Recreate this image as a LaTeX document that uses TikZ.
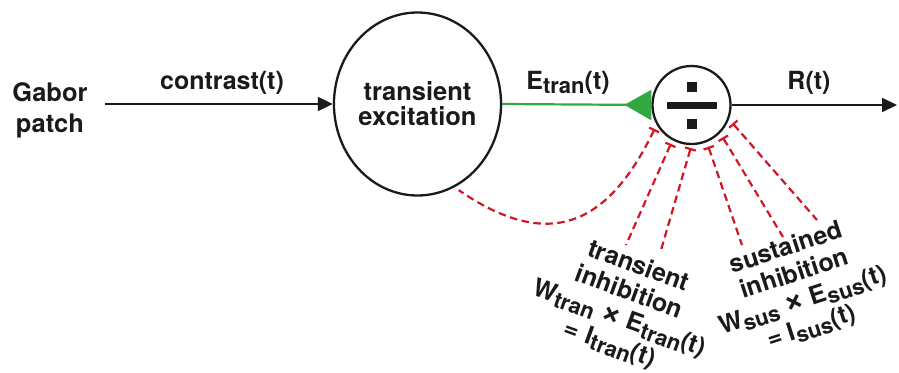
\documentclass[tikz,border=0pt]{standalone}
\usepackage{fontspec}
\setmainfont{TeX Gyre Heros}
\usetikzlibrary{arrows.meta,shapes.geometric,calc}

\definecolor{ink}{RGB}{26,26,26}
\definecolor{exgreen}{RGB}{50,168,66}
\definecolor{inhred}{RGB}{210,22,36}

% lowered index letters, as in E_tran
\newcommand{\idx}[1]{\raisebox{-0.17em}{\fontsize{22}{22}\selectfont #1}}
% heavy multiplication cross
\newcommand{\mult}{\raisebox{-0.02em}{\scalebox{1.35}{×}}}

\begin{document}
\begin{tikzpicture}[x=1pt,y=-1pt,
  font=\fontsize{25}{27}\selectfont\bfseries,
  lbl/.style={inner sep=0pt, text=ink},
  excite/.style={ellipse, draw=ink, line width=2.3pt, minimum width=141pt,
    minimum height=183pt, inner sep=0pt, align=center, text=ink},
  divider/.style={circle, draw=ink, line width=2.3pt, minimum size=78pt, inner sep=0pt},
  flow/.style={draw=ink, line width=2pt, -{Triangle[length=15pt,width=14pt]}},
  excflow/.style={draw=exgreen, line width=2.2pt, -{Triangle[reversed,length=27pt,width=30pt]}},
  inh/.style={draw=inhred, line width=2.2pt, dash pattern=on 7.5pt off 4.5pt,
    {Bar[width=11pt]}-},
  inhtext/.style={lbl, align=center, font=\fontsize{25}{27.5}\selectfont\bfseries}]

\useasboundingbox (0,0) rectangle (899,372);

% stages
\node[lbl, align=center, font=\fontsize{25.5}{31}\selectfont\bfseries] (gabor) at (50,110) {Gabor\\patch};
\node[excite, font=\fontsize{25.5}{25}\selectfont\bfseries] (ex) at (417.5,104) {transient\\excitation};
\node[divider] (div) at (691.5,105) {};

% division sign inside the normalisation stage
\fill[ink] ($(div.center)+(-25,-3.5)$) rectangle ($(div.center)+(25,3.5)$);
\fill[ink] ($(div.center)+(-5,-23.5)$) rectangle ($(div.center)+(5,-13.5)$);
\fill[ink] ($(div.center)+(-5,13.5)$) rectangle ($(div.center)+(5,23.5)$);

% signal path
\coordinate (out) at (897,105);
\draw[flow, shorten <=17pt] (gabor.east |- ex.west) -- (ex.west);
\draw[excflow] (ex.east) -- (div.west);
\draw[flow] (div.east) -- (out);

\node[lbl, anchor=base] (contrast) at (222,89) {contrast(t)};
\node[lbl, anchor=base] (etran) at (568,89) {E\idx{tran}(t)};
\node[lbl, anchor=base] (resp) at (809,89) {R(t)};

% inhibitory inputs to the divisive stage
\path (div.center) ++(-147:44pt) coordinate (a1);
\path (div.center) ++(-118:44pt) coordinate (a2);
\path (div.center) ++(-91:43pt) coordinate (a3);
\path (div.center) ++(-68:45pt) coordinate (a4);
\path (div.center) ++(-46:45pt) coordinate (a5);
\path (div.center) ++(-24:45pt) coordinate (a6);

\coordinate (e2) at (626,245);
\coordinate (e3) at (661,250);
\coordinate (e4) at (742,245);
\coordinate (e5) at (783,237);
\coordinate (e6) at (817,220);

\draw[inh, shorten >=5pt] (a1) .. controls (607,228) and (547,251) .. (ex.-66);
\draw[inh] (a2) -- (e2);
\draw[inh] (a3) -- (e3);
\draw[inh] (a4) -- (e4);
\draw[inh] (a5) -- (e5);
\draw[inh] (a6) -- (e6);

\node[inhtext, rotate=-20] (tinh) at (624,306)
  {transient\\inhibition\\W\idx{tran} \mult{} E\idx{tran}(t)\\= I\idx{tran}(t)};
\node[inhtext, rotate=18] (sinh) at (799,288)
  {sustained\\inhibition\\W\idx{sus} \mult{} E\idx{sus}(t)\\= I\idx{sus}(t)};

\end{tikzpicture}
\end{document}
